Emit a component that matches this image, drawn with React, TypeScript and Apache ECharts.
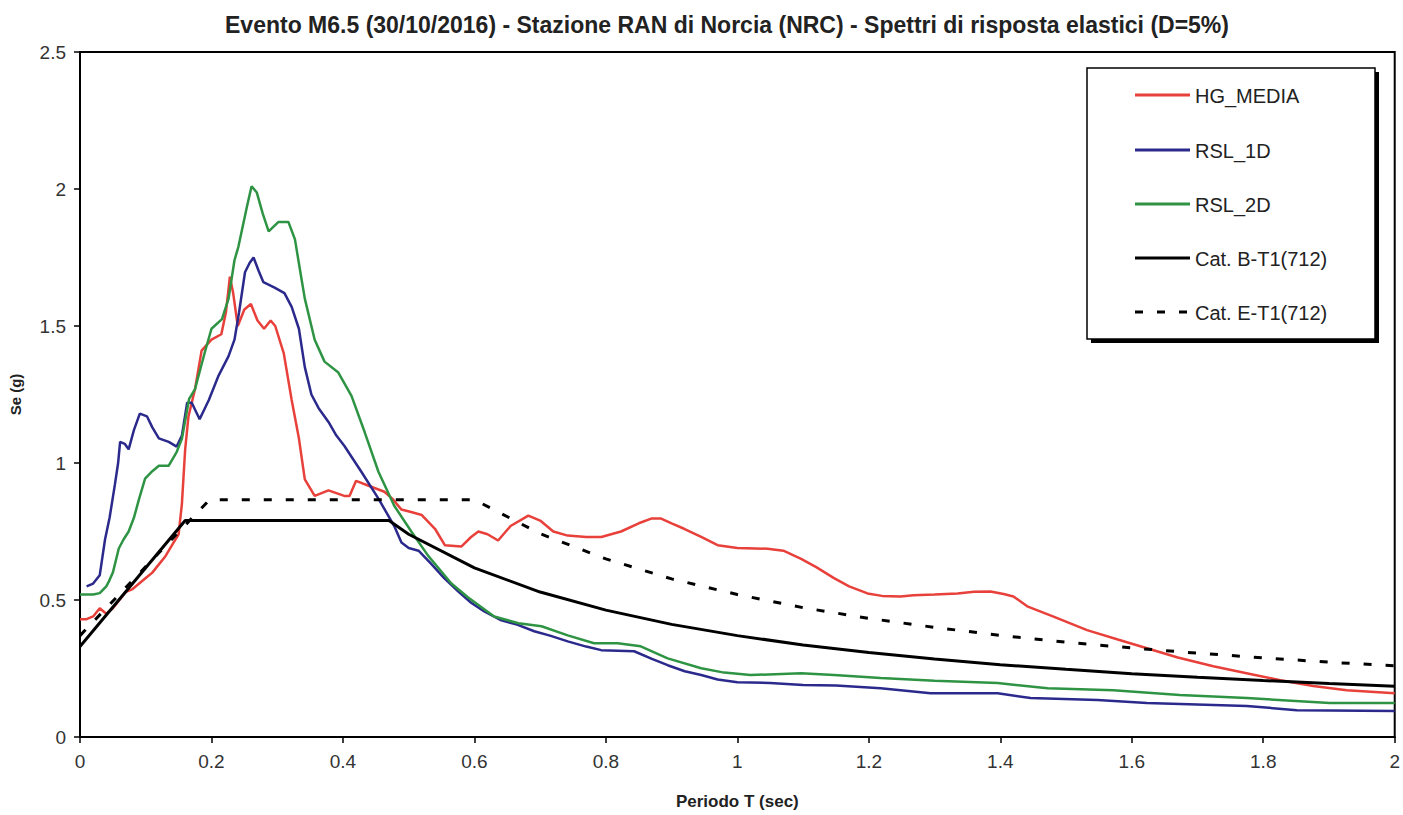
import React, { useEffect, useRef } from "react";
import * as echarts from "echarts";

const TITLE = "Evento M6.5 (30/10/2016) - Stazione RAN di Norcia (NRC) - Spettri di risposta elastici (D=5%)";
const X_NAME = "Periodo T (sec)";
const Y_NAME = "Se (g)";
const SERIES_NAMES = ["HG_MEDIA", "RSL_1D", "RSL_2D", "Cat. B-T1(712)", "Cat. E-T1(712)"];
const COLORS = ["#e8403a", "#2b2a8c", "#2e9444", "#000000", "#000000"];

const hgMedia: [number, number][] = [
  [0, 0.43], [0.01, 0.43], [0.02, 0.44], [0.03, 0.47], [0.04, 0.45], [0.05, 0.47], [0.06, 0.5],
  [0.07, 0.53], [0.08, 0.54], [0.09, 0.56], [0.1, 0.58], [0.11, 0.6], [0.12, 0.63], [0.13, 0.66],
  [0.14, 0.7], [0.15, 0.74], [0.155, 0.85], [0.16, 1.05], [0.165, 1.17], [0.175, 1.27], [0.185, 1.41],
  [0.2, 1.45], [0.215, 1.47], [0.222, 1.55], [0.228, 1.68], [0.233, 1.62], [0.24, 1.5], [0.25, 1.56],
  [0.26, 1.58], [0.27, 1.52], [0.28, 1.49], [0.29, 1.52], [0.297, 1.5], [0.31, 1.4], [0.322, 1.23],
  [0.333, 1.09], [0.342, 0.94], [0.357, 0.88], [0.378, 0.9], [0.39, 0.89], [0.402, 0.88], [0.41, 0.88],
  [0.42, 0.935], [0.439, 0.917], [0.463, 0.895], [0.475, 0.87], [0.489, 0.83], [0.505, 0.82], [0.52, 0.81],
  [0.54, 0.76], [0.555, 0.7], [0.58, 0.695], [0.595, 0.73], [0.606, 0.75], [0.62, 0.74], [0.636, 0.717],
  [0.655, 0.77], [0.682, 0.808], [0.7, 0.79], [0.72, 0.75], [0.742, 0.735], [0.77, 0.73], [0.793, 0.73],
  [0.823, 0.75], [0.85, 0.78], [0.869, 0.797], [0.884, 0.797], [0.9, 0.78], [0.919, 0.76], [0.945, 0.73],
  [0.97, 0.7], [1.0, 0.69], [1.046, 0.687], [1.07, 0.68], [1.097, 0.65], [1.12, 0.62], [1.147, 0.58],
  [1.17, 0.55], [1.198, 0.524], [1.22, 0.515], [1.248, 0.513], [1.268, 0.517], [1.3, 0.52], [1.335, 0.524],
  [1.36, 0.53], [1.385, 0.531], [1.405, 0.522], [1.42, 0.513], [1.441, 0.477], [1.48, 0.44], [1.532, 0.39],
  [1.58, 0.355], [1.623, 0.324], [1.67, 0.29], [1.724, 0.258], [1.78, 0.23], [1.826, 0.207], [1.876, 0.186],
  [1.927, 0.171], [2.0, 0.16],
];

const rsl1D: [number, number][] = [
  [0.01, 0.55], [0.02, 0.56], [0.03, 0.59], [0.038, 0.72], [0.045, 0.8], [0.053, 0.92], [0.058, 1.0],
  [0.061, 1.077], [0.068, 1.07], [0.074, 1.05], [0.082, 1.12], [0.091, 1.18], [0.102, 1.17], [0.11, 1.13],
  [0.12, 1.09], [0.135, 1.077], [0.147, 1.06], [0.155, 1.1], [0.163, 1.22], [0.17, 1.22], [0.178, 1.18],
  [0.182, 1.16], [0.19, 1.2], [0.196, 1.23], [0.211, 1.32], [0.226, 1.39], [0.235, 1.45], [0.242, 1.55],
  [0.251, 1.696], [0.258, 1.73], [0.264, 1.75], [0.272, 1.7], [0.279, 1.66], [0.296, 1.64], [0.311, 1.62],
  [0.322, 1.57], [0.333, 1.49], [0.342, 1.35], [0.352, 1.25], [0.363, 1.2], [0.378, 1.15], [0.39, 1.1],
  [0.402, 1.063], [0.428, 0.968], [0.454, 0.87], [0.478, 0.77], [0.489, 0.71], [0.5, 0.69], [0.515, 0.68],
  [0.535, 0.63], [0.554, 0.58], [0.576, 0.53], [0.595, 0.49], [0.615, 0.458], [0.641, 0.426], [0.665, 0.41],
  [0.691, 0.386], [0.715, 0.37], [0.742, 0.349], [0.77, 0.33], [0.793, 0.317], [0.843, 0.313], [0.87, 0.285],
  [0.894, 0.262], [0.92, 0.24], [0.945, 0.226], [0.97, 0.21], [1.0, 0.2], [1.05, 0.197], [1.1, 0.19],
  [1.15, 0.188], [1.218, 0.178], [1.294, 0.16], [1.396, 0.16], [1.446, 0.142], [1.548, 0.135], [1.623, 0.124],
  [1.775, 0.113], [1.851, 0.098], [2.0, 0.095],
];

const rsl2D: [number, number][] = [
  [0, 0.52], [0.01, 0.52], [0.02, 0.52], [0.03, 0.525], [0.04, 0.55], [0.044, 0.568], [0.05, 0.6],
  [0.059, 0.688], [0.066, 0.72], [0.074, 0.75], [0.082, 0.8], [0.09, 0.87], [0.099, 0.943], [0.11, 0.97],
  [0.12, 0.99], [0.135, 0.99], [0.147, 1.04], [0.155, 1.088], [0.166, 1.234], [0.175, 1.27], [0.19, 1.405],
  [0.2, 1.49], [0.216, 1.525], [0.226, 1.6], [0.235, 1.74], [0.241, 1.79], [0.254, 1.936], [0.261, 2.01],
  [0.269, 1.987], [0.278, 1.91], [0.287, 1.845], [0.302, 1.88], [0.317, 1.88], [0.327, 1.816], [0.335, 1.7],
  [0.342, 1.6], [0.357, 1.45], [0.372, 1.37], [0.393, 1.33], [0.413, 1.245], [0.433, 1.113], [0.454, 0.968],
  [0.478, 0.844], [0.504, 0.75], [0.53, 0.66], [0.565, 0.56], [0.59, 0.51], [0.63, 0.44], [0.667, 0.415],
  [0.702, 0.404], [0.742, 0.371], [0.782, 0.342], [0.818, 0.342], [0.853, 0.331], [0.894, 0.287],
  [0.945, 0.251], [0.98, 0.235], [1.02, 0.226], [1.097, 0.233], [1.147, 0.226], [1.218, 0.215], [1.3, 0.205],
  [1.396, 0.197], [1.472, 0.178], [1.572, 0.171], [1.673, 0.153], [1.775, 0.142], [1.901, 0.124], [2.0, 0.124],
];

const catB: [number, number][] = [
  [0, 0.33], [0.16, 0.79], [0.47, 0.79], [0.5, 0.74], [0.6, 0.617], [0.7, 0.529], [0.8, 0.463], [0.9, 0.411],
  [1.0, 0.37], [1.1, 0.336], [1.2, 0.308], [1.3, 0.285], [1.4, 0.264], [1.5, 0.247], [1.6, 0.231],
  [1.7, 0.218], [1.8, 0.206], [1.9, 0.195], [2.0, 0.185],
];

const catE: [number, number][] = [
  [0, 0.37], [0.197, 0.866], [0.6, 0.866], [0.7, 0.742], [0.8, 0.65], [0.9, 0.577], [1.0, 0.52],
  [1.1, 0.472], [1.2, 0.433], [1.3, 0.4], [1.4, 0.371], [1.5, 0.346], [1.6, 0.325], [1.7, 0.306],
  [1.8, 0.289], [1.9, 0.273], [2.0, 0.26],
];

const SERIES_DATA = [hgMedia, rsl1D, rsl2D, catB, catE];

const FONT = "'Liberation Sans', Arial, sans-serif";

export default function App() {
  const ref = useRef<HTMLDivElement>(null);
  useEffect(() => {
    if (!ref.current) return;
    const chart = echarts.init(ref.current, null, { renderer: "svg" });

    const series = SERIES_DATA.map((d, i) => ({
      name: SERIES_NAMES[i],
      type: "line",
      data: d,
      symbol: "none",
      showSymbol: false,
      z: i >= 3 ? 3 : 2,
      lineStyle: {
        color: COLORS[i],
        width: i >= 3 ? 3 : 2.5,
        type: i === 4 ? [8, 14] : "solid",
        cap: "butt",
      },
    }));

    const legendLeft = 1087;
    const legendTop = 68;
    const rowYs = [95, 150, 204, 258, 312];
    const legendChildren: any[] = [
      {
        type: "rect",
        shape: { x: legendLeft + 4, y: legendTop + 4, width: 288, height: 271 },
        style: { fill: "#000" },
      },
      {
        type: "rect",
        shape: { x: legendLeft, y: legendTop, width: 288, height: 271 },
        style: { fill: "#fff", stroke: "#000", lineWidth: 1.5 },
      },
    ];
    SERIES_NAMES.forEach((n, i) => {
      legendChildren.push({
        type: "line",
        shape: { x1: 1135, y1: rowYs[i], x2: 1190, y2: rowYs[i] },
        style: {
          stroke: COLORS[i],
          lineWidth: 3,
          lineDash: i === 4 ? [8, 14] : null,
        },
      });
      legendChildren.push({
        type: "text",
        x: 1195,
        y: rowYs[i] + 1,
        style: {
          text: n,
          font: `20px ${FONT}`,
          fill: "#222",
          textVerticalAlign: "middle",
          verticalAlign: "middle",
        },
      });
    });

    chart.setOption({
      animation: false,
      backgroundColor: "#fff",
      title: {
        text: TITLE,
        left: 722,
        top: 8,
        textAlign: "center",
        textStyle: { fontFamily: FONT, fontSize: 23, fontWeight: "bold", color: "#222" },
      },
      grid: {
        left: 76,
        right: 8,
        top: 52,
        bottom: 76,
        show: true,
        borderColor: "#000",
        borderWidth: 2,
        backgroundColor: "#fff",
      },
      xAxis: {
        type: "value",
        min: 0,
        max: 2,
        interval: 0.2,
        name: X_NAME,
        nameLocation: "middle",
        nameGap: 56,
        nameTextStyle: { fontFamily: FONT, fontSize: 17, fontWeight: "bold", color: "#222" },
        axisLine: { show: true, lineStyle: { color: "#000", width: 2 } },
        axisTick: { show: true, inside: false, length: 6, lineStyle: { color: "#000", width: 1.5 } },
        axisLabel: { fontFamily: FONT, fontSize: 19, color: "#333", margin: 15 },
        splitLine: { show: false },
      },
      yAxis: {
        type: "value",
        min: 0,
        max: 2.5,
        interval: 0.5,
        name: Y_NAME,
        nameLocation: "middle",
        nameGap: 57,
        nameTextStyle: { fontFamily: FONT, fontSize: 15, fontWeight: "bold", color: "#222" },
        axisLine: { show: true, lineStyle: { color: "#000", width: 2 } },
        axisTick: { show: true, inside: false, length: 6, lineStyle: { color: "#000", width: 1.5 } },
        axisLabel: { fontFamily: FONT, fontSize: 19, color: "#333", margin: 14 },
        splitLine: { show: false },
      },
      series,
      graphic: [{ type: "group", z: 100, children: legendChildren }],
    });

    return () => chart.dispose();
  }, []);

  return (
    <div
      ref={ref}
      style={{ position: "absolute", left: 0, top: 0, width: 1403, height: 815 }}
    />
  );
}
